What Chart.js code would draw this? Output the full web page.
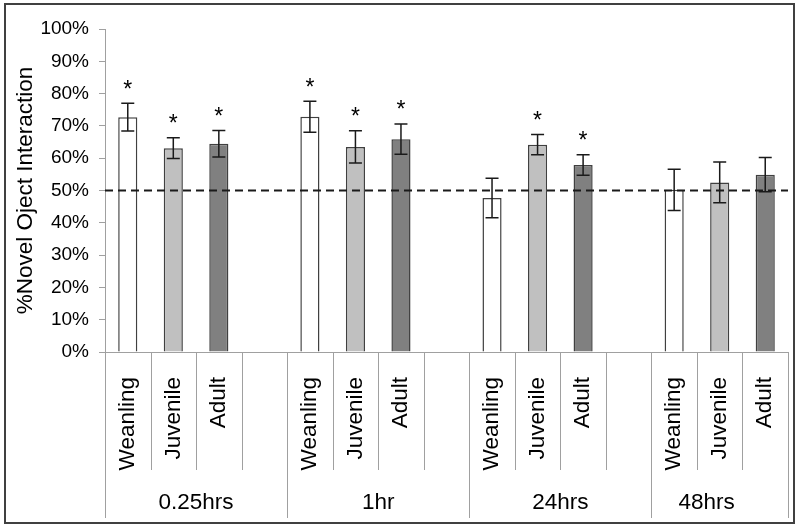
<!DOCTYPE html>
<html>
<head>
<meta charset="utf-8">
<script src="https://cdn.jsdelivr.net/npm/chart.js@4"></script>
<style>
  html, body { margin: 0; padding: 0; background: #fff; }
  #wrap { width: 800px; height: 528px; }
</style>
</head>
<body>
<div id="wrap"><canvas id="novelChart" width="800" height="528"></canvas></div>
<script>
// Data
const groups = ['0.25hrs', '1hr', '24hrs', '48hrs'];
const ages = ['Weanling', 'Juvenile', 'Adult'];
const ageColors = ['#ffffff', '#c0c0c0', '#808080'];
// mean % novel object interaction, group by group (Weanling, Juvenile, Adult)
const means = [72.7, 63.1, 64.5, 72.8, 63.5, 65.9, 47.7, 64.2, 57.9, 50.2, 52.5, 54.9];
const errs = [4.3, 3.2, 4.1, 4.8, 5.0, 4.7, 6.1, 3.1, 3.2, 6.4, 6.3, 5.3];
const signif = [true, true, true, true, true, true, false, true, true, false, false, false];
const chanceLevel = 50;
const yTicks = [0, 10, 20, 30, 40, 50, 60, 70, 80, 90, 100];

const FONT = '"Liberation Sans", Arial, sans-serif';

// Build the slot layout (3 bars per group + an empty spacer slot between groups)
const slotLabels = [];
const slotValues = [];
const slotColors = [];
const barSlot = [];
const groupStart = [];
groups.forEach((g, gi) => {
  groupStart.push(slotLabels.length);
  ages.forEach((a, ai) => {
    barSlot.push(slotLabels.length);
    slotLabels.push(a);
    slotValues.push(means[gi * 3 + ai]);
    slotColors.push(ageColors[ai]);
  });
  if (gi < groups.length - 1) {
    slotLabels.push('');
    slotValues.push(null);
    slotColors.push('#ffffff');
  }
});

// Error bars, stars, chance line, two-level axis labels and frame
const annotations = {
  id: 'annotations',
  afterDatasetsDraw(chart) {
    const { ctx, scales: { x, y }, chartArea } = chart;
    ctx.save();
    // error bars
    ctx.strokeStyle = '#1a1a1a';
    ctx.lineWidth = 1.5;
    barSlot.forEach((slot, i) => {
      const px = x.getPixelForValue(slot);
      const top = y.getPixelForValue(means[i] + errs[i]);
      const bot = y.getPixelForValue(means[i] - errs[i]);
      ctx.beginPath();
      ctx.moveTo(px, top); ctx.lineTo(px, bot);
      ctx.moveTo(px - 6.5, top); ctx.lineTo(px + 6.5, top);
      ctx.moveTo(px - 6.5, bot); ctx.lineTo(px + 6.5, bot);
      ctx.stroke();
      if (signif[i]) {
        ctx.fillStyle = '#000';
        ctx.font = '23px ' + FONT;
        ctx.textAlign = 'center';
        ctx.textBaseline = 'alphabetic';
        ctx.fillText('*', px, top - 6.5);
      }
    });
    // chance level
    const cy = y.getPixelForValue(chanceLevel);
    ctx.strokeStyle = '#1a1a1a';
    ctx.lineWidth = 2;
    ctx.setLineDash([8, 5]);
    ctx.beginPath();
    ctx.moveTo(chartArea.left, cy);
    ctx.lineTo(chartArea.right, cy);
    ctx.stroke();
    ctx.restore();
  },
  afterDraw(chart) {
    const { ctx, scales: { x }, chartArea } = chart;
    const slotW = x.width / slotLabels.length;
    ctx.save();
    // dividers below the axis
    ctx.strokeStyle = '#a0a0a0';
    ctx.lineWidth = 1;
    for (let k = 0; k <= slotLabels.length; k++) {
      const px = Math.round(x.left + k * slotW) + 0.5;
      const isGroup = groupStart.includes(k) || k === slotLabels.length;
      ctx.beginPath();
      ctx.moveTo(px, chartArea.bottom);
      ctx.lineTo(px, isGroup ? 518 : 470);
      ctx.stroke();
    }
    // category labels (rotated)
    ctx.fillStyle = '#000';
    ctx.font = '22.5px ' + FONT;
    slotLabels.forEach((lab, k) => {
      if (!lab) return;
      const px = x.getPixelForValue(k);
      ctx.save();
      ctx.translate(px, 377);
      ctx.rotate(-Math.PI / 2);
      ctx.textAlign = 'right';
      ctx.textBaseline = 'middle';
      ctx.fillText(lab, 0, 0);
      ctx.restore();
    });
    // group labels
    ctx.textAlign = 'center';
    ctx.textBaseline = 'middle';
    groups.forEach((g, gi) => {
      const left = x.left + groupStart[gi] * slotW;
      const right = gi < groups.length - 1 ? x.left + groupStart[gi + 1] * slotW : x.right;
      let cx = (left + right) / 2;
      if (gi === groups.length - 1) cx -= 13;
      ctx.fillText(g, cx, 503);
    });
    // outer frame
    ctx.strokeStyle = '#404040';
    ctx.lineWidth = 2;
    ctx.strokeRect(5, 4, 789, 519);
    ctx.restore();
  }
};

new Chart(document.getElementById('novelChart'), {
  type: 'bar',
  data: {
    labels: slotLabels,
    datasets: [{
      data: slotValues,
      backgroundColor: slotColors,
      borderColor: '#404040',
      borderWidth: 1.5,
      barPercentage: 0.42,
      categoryPercentage: 1
    }]
  },
  options: {
    responsive: false,
    animation: false,
    layout: { padding: { left: 5, right: 12, top: 29, bottom: 5 } },
    plugins: {
      legend: { display: false },
      tooltip: { enabled: false }
    },
    scales: {
      x: {
        afterFit: s => { s.height = 171; },
        ticks: { display: false },
        grid: { display: true, drawOnChartArea: false, drawTicks: false, color: '#a0a0a0' },
        border: { display: true, color: '#a0a0a0', width: 1 }
      },
      y: {
        min: 0,
        max: 100,
        afterFit: s => { s.width = 100; },
        afterBuildTicks: s => { s.ticks = yTicks.map(v => ({ value: v })); },
        ticks: {
          padding: 10,
          color: '#000',
          font: { family: FONT, size: 19 },
          callback: v => v + '%'
        },
        grid: { drawOnChartArea: false, drawTicks: true, tickLength: 6, color: '#a0a0a0' },
        border: { display: true, color: '#a0a0a0', width: 1 },
        title: {
          display: true,
          text: '%Novel Oject Interaction',
          color: '#000',
          font: { family: FONT, size: 22.5 },
          padding: { top: 7, bottom: 0 }
        }
      }
    }
  },
  plugins: [annotations]
});
</script>
</body>
</html>
